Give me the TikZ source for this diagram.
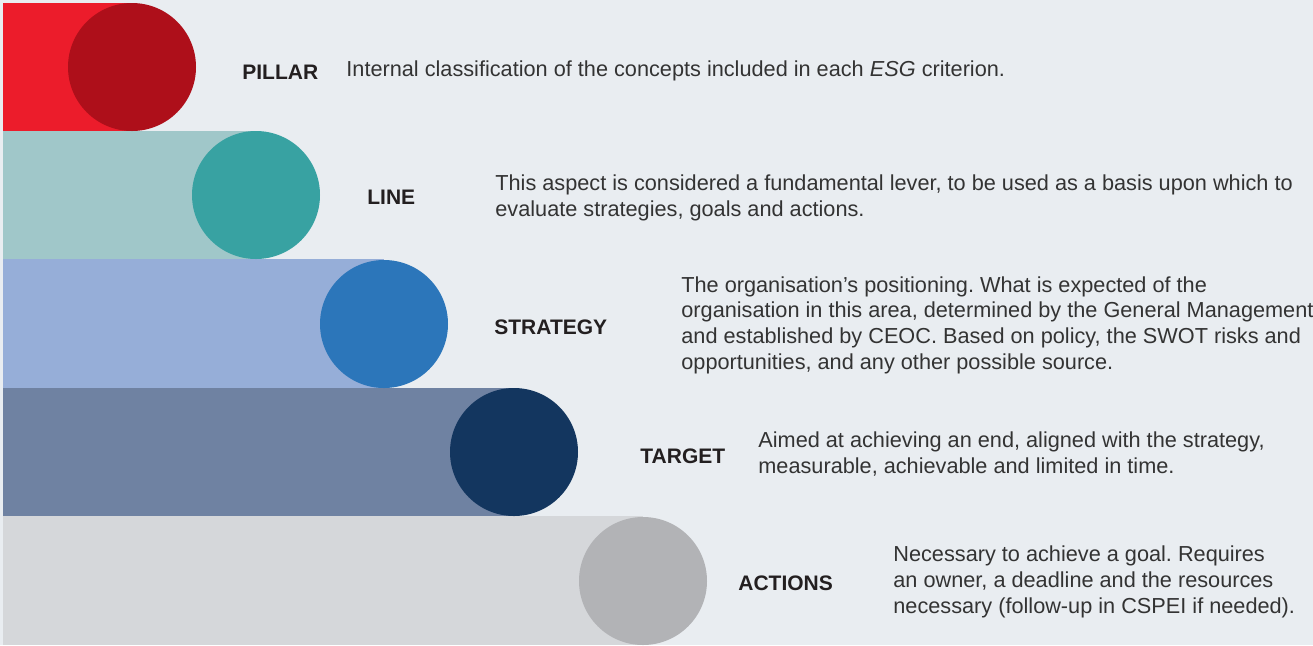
\documentclass[tikz,border=0pt]{standalone}
\usepackage{fontspec}
\setmainfont{Liberation Sans}
\usetikzlibrary{positioning}

% palette
\definecolor{backdrop}{HTML}{E9EDF1}
\definecolor{pillarband}{HTML}{EC1C2B}
\definecolor{pillardisc}{HTML}{AE0F1A}
\definecolor{lineband}{HTML}{A0C7C9}
\definecolor{linedisc}{HTML}{38A2A2}
\definecolor{strategyband}{HTML}{96AED8}
\definecolor{strategydisc}{HTML}{2C76BA}
\definecolor{targetband}{HTML}{6F82A2}
\definecolor{targetdisc}{HTML}{13365F}
\definecolor{actionsband}{HTML}{D5D7DA}
\definecolor{actionsdisc}{HTML}{B2B3B6}
\definecolor{labelink}{HTML}{231F20}
\definecolor{bodyink}{HTML}{333333}

\begin{document}
\frenchspacing
\begin{tikzpicture}[x=0.5pt, y=-0.5pt,
    disc/.style={circle, minimum size=64pt, inner sep=0pt, outer sep=0pt},
    level/.style={anchor=west, inner sep=0pt, text=labelink,
      font=\bfseries\fontsize{10.5}{12}\selectfont},
    desc/.style={anchor=west, inner sep=0pt, align=left, text=bodyink,
      font=\fontsize{10.85}{12.85}\selectfont}]
  \useasboundingbox (0,0) rectangle (1313,645);
  \fill[backdrop] (0,0) rectangle (1313,645);

  % bands, each ending under the centre of its disc
  \fill[pillarband] (3,3) rectangle (132,131);
  \fill[lineband] (3,131) rectangle (256,259);
  \fill[strategyband] (3,259) rectangle (384,388);
  \fill[targetband] (3,388) rectangle (514,516);
  \fill[actionsband] (3,516) rectangle (643,645);

  % discs
  \node[disc, fill=pillardisc] (pillar) at (132,67) {};
  \node[disc, fill=linedisc] (line) at (256,195) {};
  \node[disc, fill=strategydisc] (strategy) at (384,324) {};
  \node[disc, fill=targetdisc] (target) at (514,452) {};
  \node[disc, fill=actionsdisc] (actions) at (643,581) {};

  % headings
  \node[level] (pillarlbl) at (242,72) {PILLAR};
  \node[level] (linelbl) at (367,197) {LINE};
  \node[level] (strategylbl) at (494,327) {STRATEGY};
  \node[level] (targetlbl) at (640,456) {TARGET};
  \node[level] (actionslbl) at (738,583) {ACTIONS};

  % descriptions
  \node[desc] (pillartxt) at (346,71)
    {Internal classification of the concepts included in each \textit{ESG} criterion.};
  \node[desc] (linetxt) at (495,198)
    {This aspect is considered a fundamental lever, to be used as a basis upon which to\\
     evaluate strategies, goals and actions.};
  \node[desc] (strategytxt) at (681,325)
    {The organisation’s positioning. What is expected of the\\
     organisation in this area, determined by the General Management\\
     and established by CEOC. Based on policy, the SWOT risks and\\
     opportunities, and any other possible source.};
  \node[desc] (targettxt) at (758,454)
    {Aimed at achieving an end, aligned with the strategy,\\
     measurable, achievable and limited in time.};
  \node[desc] (actionstxt) at (893,582)
    {Necessary to achieve a goal. Requires\\
     an owner, a deadline and the resources\\
     necessary (follow-up in CSPEI if needed).};
\end{tikzpicture}
\end{document}
